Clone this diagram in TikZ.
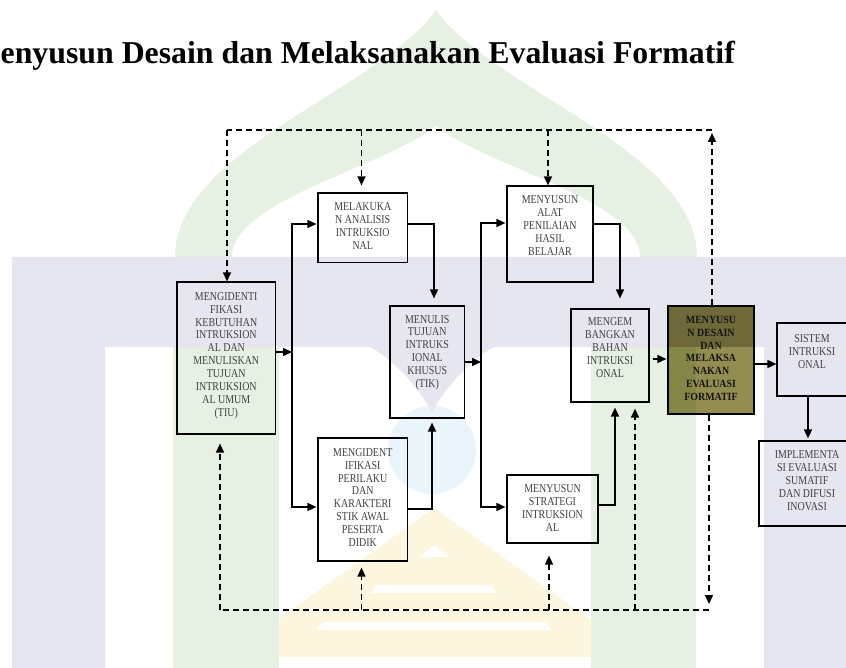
\documentclass[tikz,border=0pt]{standalone}
\usepackage{fontspec}
\setmainfont{Liberation Serif}
\newfontfamily\boxfont[FakeStretch=0.83]{Liberation Serif}
\newfontfamily\boxboldfont[FakeStretch=0.9]{Liberation Serif}
\usetikzlibrary{arrows.meta}
\definecolor{wmgreen}{HTML}{E6F0E3}
\definecolor{wmlav}{HTML}{E6E6F1}
\definecolor{wmyellow}{HTML}{FBF6DD}
\definecolor{wmblue}{HTML}{EAF4FB}
\definecolor{olivemid}{HTML}{948D52}
\definecolor{olivetop}{HTML}{6F6839}
\definecolor{olivegreen}{HTML}{858747}
\begin{document}
\begin{tikzpicture}[x=1pt,y=-1pt,
  box/.style={draw=black, line width=1.2pt, inner sep=0pt},
  boxtext/.style={anchor=north, align=center, inner sep=0pt, text=black!75,
    font=\boxfont\fontsize{12}{12.9}\selectfont},
  tip/.style={-{Triangle[length=9pt,width=8pt]}},
  flow/.style={line width=1.5pt, tip},
  fb/.style={line width=1.3pt, dash pattern=on 6pt off 4pt},
  fbarrow/.style={fb, tip},
]
\useasboundingbox (0,0) rectangle (846,668);
\fill[white] (0,0) rectangle (846,668);

% faint emblem in the background
\fill[wmgreen] (175,257) .. controls (175,150) and (380,90) .. (436,10)
  .. controls (492,90) and (697,150) .. (697,257) -- cycle;
\fill[white] (232,257) .. controls (232,200) and (390,165) .. (436,126)
  .. controls (482,165) and (640,200) .. (640,257) -- cycle;
\fill[wmyellow] (434,508) -- (658,668) -- (210,668) -- cycle;
\fill[white] (434,545) -- (449,557) -- (419,557) -- cycle;
\fill[white] (377,585) -- (491,585) -- (497,593) -- (371,593) -- cycle;
\fill[white] (323,622) -- (545,622) -- (551,630) -- (317,630) -- cycle;
\fill[white] (266,657) -- (602,657) -- (612,668) -- (256,668) -- cycle;
\fill[wmblue] (432,450) circle (44);
\fill[wmgreen] (173,340) rectangle (279,668);
\fill[wmgreen] (591,340) rectangle (696,668);
\fill[wmlav] (12,668) -- (12,257) -- (846,257) -- (846,668) -- (764,668) -- (764,347)
  -- (494,347) .. controls (469,360) and (444,390) .. (432,412)
  .. controls (420,390) and (395,360) .. (370,347) -- (105,347) -- (105,668) -- cycle;

% title
\node[anchor=base west, inner sep=0pt, font=\fontsize{31.8}{36}\selectfont\bfseries]
  (title) at (0.5,63.5) {enyusun Desain dan Melaksanakan Evaluasi Formatif};

% boxes
\node[box, minimum width=98.5pt, minimum height=152pt] (b1) at (226.25,358) {};
\node[box, minimum width=89.5pt, minimum height=69.5pt] (b2) at (362.75,227.75) {};
\node[box, minimum width=74.5pt, minimum height=112pt] (b3) at (427.25,362) {};
\node[box, minimum width=86pt, minimum height=96pt] (b4) at (550,234) {};
\node[box, minimum width=78pt, minimum height=93pt] (b5) at (610,355.5) {};
\node[box, fill=olivemid, minimum width=86pt, minimum height=108pt,
  path picture={
    \fill[olivetop] (path picture bounding box.north west)
      rectangle ([yshift=67pt]path picture bounding box.south east);
    \fill[olivegreen] (path picture bounding box.south west)
      rectangle ([xshift=28pt,yshift=67pt]path picture bounding box.south west);
  }] (b6) at (711,360) {};
\node[box, minimum width=70pt, minimum height=73pt] (b7) at (812,359.5) {};
\node[box, minimum width=96pt, minimum height=85pt] (b8) at (807,483.5) {};
\node[box, minimum width=89.5pt, minimum height=123pt] (b9) at (362.75,499.5) {};
\node[box, minimum width=91pt, minimum height=68pt] (b10) at (552.5,509) {};

% box texts
\node[boxtext] (t1) at ([yshift=-10.7pt]b1.north) {MENGIDENTI\\FIKASI\\KEBUTUHAN\\INTRUKSION\\AL DAN\\MENULISKAN\\TUJUAN\\INTRUKSION\\AL UMUM\\(TIU)};
\node[boxtext] (t2) at ([yshift=-10pt]b2.north) {MELAKUKA\\N ANALISIS\\INTRUKSIO\\NAL};
\node[boxtext] (t3) at ([yshift=-9.5pt]b3.north) {MENULIS\\TUJUAN\\INTRUKS\\IONAL\\KHUSUS\\(TIK)};
\node[boxtext] (t4) at ([yshift=-10pt]b4.north) {MENYUSUN\\ALAT\\PENILAIAN\\HASIL\\BELAJAR};
\node[boxtext] (t5) at ([yshift=-9.3pt]b5.north) {MENGEM\\BANGKAN\\BAHAN\\INTRUKSI\\ONAL};
\node[boxtext, text=black!92, font=\boxboldfont\fontsize{11}{12.7}\selectfont\bfseries] (t6)
  at ([yshift=-11pt]b6.north) {MENYUSU\\N DESAIN\\DAN\\MELAKSA\\NAKAN\\EVALUASI\\FORMATIF};
\node[boxtext] (t7) at ([yshift=-12pt]b7.north) {SISTEM\\INTRUKSI\\ONAL};
\node[boxtext] (t8) at ([yshift=-10pt]b8.north) {IMPLEMENTA\\SI EVALUASI\\SUMATIF\\DAN DIFUSI\\INOVASI};
\node[boxtext] (t9) at ([yshift=-10.7pt]b9.north) {MENGIDENT\\IFIKASI\\PERILAKU\\DAN\\KARAKTERI\\STIK AWAL\\PESERTA\\DIDIK};
\node[boxtext] (t10) at ([yshift=-10pt]b10.north) {MENYUSUN\\STRATEGI\\INTRUKSION\\AL};

% main flow
\coordinate (j1) at (292,352);
\coordinate (j1t) at (292,224);
\coordinate (j1b) at (292,507);
\draw[flow] (b1.east |- j1) -- (j1);
\draw[flow, shorten >=1pt] (j1) -- (j1t) -- (b2.west |- j1t);
\draw[flow, shorten >=1pt] (j1) -- (j1b) -- (b9.west |- j1b);

\coordinate (c3t) at (434,224);
\draw[flow, shorten >=7pt] (b2.east |- c3t) -- (c3t) -- (c3t |- b3.north);
\coordinate (c3b) at (432,509);
\draw[flow, shorten >=4pt] (b9.east |- c3b) -- (c3b) -- (c3b |- b3.south);

\coordinate (j2) at (481,362);
\coordinate (j2t) at (481,223);
\coordinate (j2b) at (481,507);
\draw[flow] (b3.east |- j2) -- (j2);
\draw[flow, shorten >=1pt] (j2) -- (j2t) -- (b4.west |- j2t);
\draw[flow, shorten >=1pt] (j2) -- (j2b) -- (b10.west |- j2b);

\coordinate (c5t) at (620,224);
\draw[flow, shorten >=10pt] (b4.east |- c5t) -- (c5t) -- (c5t |- b5.north);
\coordinate (c5b) at (615,505);
\draw[flow, shorten >=5pt] (b10.east |- c5b) -- (c5b) -- (c5b |- b5.south);

\coordinate (a56) at (652,359);
\draw[flow, shorten <=3pt, shorten >=1pt] (b5.east |- a56) -- (b6.west |- a56);
\coordinate (a67) at (760,364);
\draw[flow] (b6.east |- a67) -- (b7.west |- a67);
\coordinate (a78) at (808,400);
\draw[flow, shorten >=2pt] (b7.south -| a78) -- (b8.north -| a78);

% feedback loop over the top
\coordinate (ftr) at (712,130);
\coordinate (ftl) at (227,130);
\coordinate (ft2) at (361.5,130);
\coordinate (ft4) at (548,130);
\draw[fbarrow, shorten >=3pt] (b6.north -| ftr) -- (ftr);
\draw[fb] (ftr) -- (ftl);
\draw[fbarrow] (ftl) -- (ftl |- b1.north);
\draw[fbarrow, shorten >=7pt] (ft2) -- (ft2 |- b2.north);
\draw[fbarrow] (ft4) -- (ft4 |- b4.north);

% feedback loop along the bottom
\coordinate (fbr) at (709,610);
\coordinate (fbl) at (220,610);
\coordinate (fb9) at (361.5,610);
\coordinate (fb10) at (549,610);
\coordinate (fb5) at (635,610);
\draw[fbarrow, shorten >=6pt] (b6.south -| fbr) -- (fbr);
\draw[fb] (fbr) -- (fbl);
\draw[fbarrow, shorten >=9pt] (fbl) -- (fbl |- b1.south);
\draw[fbarrow, shorten >=6pt] (fb9) -- (fb9 |- b9.south);
\draw[fbarrow, shorten >=12pt] (fb10) -- (fb10 |- b10.south);
\draw[fbarrow, shorten >=6pt] (fb5) -- (fb5 |- b5.south);
\end{tikzpicture}
\end{document}
